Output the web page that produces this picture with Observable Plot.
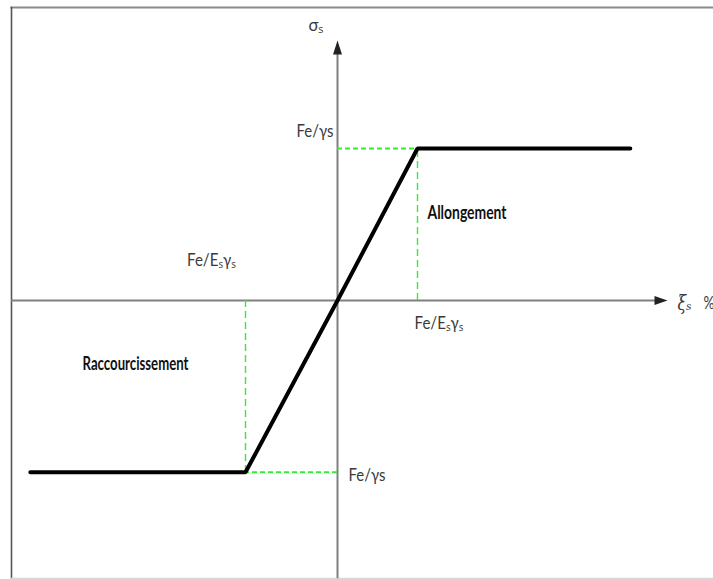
<!DOCTYPE html>
<html>
<head>
<meta charset="utf-8">
<script src="https://cdn.jsdelivr.net/npm/d3@7"></script>
<script src="https://cdn.jsdelivr.net/npm/@observablehq/plot@0.6"></script>
<style>
  html, body { margin: 0; padding: 0; background: #fff; }
  svg { display: block; }
</style>
</head>
<body>
<div id="chart"></div>
<script>
// Stress–strain diagram of reinforcing steel (relative units: elastic strain limit = 1, Fe/γs = 1)
const strain = [-3.84, -1.15, 0, 1, 3.66];
const stress = [-1.13, -1.13, 0, 1, 1];

// yield points (for the green dashed guides)
const yieldStrain = [1, -1.15];
const yieldStress = [1, -1.13];

// axis extents
const xAxisExtent = [-4.075, 4.125];
const yAxisExtent = [-1.83, 1.71];

// labels
const labelText = ["σₛ", "Fe/γs", "Fe/Eₛγₛ", "Fe/Eₛγₛ", "Fe/γs", "ξₛ", "%"];
const labelX = [-0.27, -0.05, -1.575, 0.9625, 0.1375, 4.25, 4.575];
const labelY = [1.81, 1.112, 0.263, -0.151, -1.151, -0.02, -0.02];
const zoneText = ["Allongement", "Raccourcissement"];
const zoneX = [1.125, -3.1875];
const zoneY = [0.572, -0.421];

const curve = strain.map((x, i) => ({x, y: stress[i]}));
const guides = yieldStrain.map((x, i) => ({x, y: yieldStress[i]}));
const labels = labelText.map((t, i) => ({t, x: labelX[i], y: labelY[i]}));
const zones = zoneText.map((t, i) => ({t, x: zoneX[i], y: zoneY[i]}));

// styling of labels (not data)
const labelAnchor = ["middle", "end", "middle", "start", "start", "start", "start"];
const labelWidth = [15, 37, 49, 49, 37, 14, 11];
const labelSize = [17, 18, 18, 18, 18, 21, 17];
const labelFont = [null, null, null, null, null, "'DejaVu Serif', serif", null];
const zoneWidth = [79, 106];

const arrowUp = { draw(ctx) { ctx.moveTo(0, 0); ctx.lineTo(-4.5, 14); ctx.lineTo(4.5, 14); ctx.closePath(); } };
const arrowRight = { draw(ctx) { ctx.moveTo(0, 0); ctx.lineTo(-13, -4.5); ctx.lineTo(-13, 4.5); ctx.closePath(); } };

const styleFont = "Lato, 'Open Sans', sans-serif";

const chart = Plot.plot({
  width: 713,
  height: 579,
  marginTop: 7,
  marginLeft: 11,
  marginRight: 0,
  marginBottom: 1,
  x: {domain: [-4.075, 4.7], axis: null},
  y: {domain: [-1.8289, 1.9276], axis: null},
  style: {fontFamily: styleFont, background: "#fff"},
  marks: [
    Plot.frame({anchor: "top", stroke: "#8a8a8a", strokeWidth: 2.2}),
    Plot.frame({anchor: "left", stroke: "#555", strokeWidth: 1.6}),
    Plot.frame({anchor: "bottom", stroke: "#d8d8d8", strokeWidth: 1.5}),
    // axes
    Plot.ruleY([0], {x1: xAxisExtent[0], x2: xAxisExtent[1] - 0.1, stroke: "#808080", strokeWidth: 2}),
    Plot.ruleX([0], {y1: yAxisExtent[0], y2: yAxisExtent[1] - 0.06, stroke: "#808080", strokeWidth: 2}),
    Plot.dot([{x: 0, y: yAxisExtent[1]}], {x: "x", y: "y", symbol: arrowUp, fill: "#222", stroke: "none", r: 5}),
    Plot.dot([{x: xAxisExtent[1], y: 0}], {x: "x", y: "y", symbol: arrowRight, fill: "#222", stroke: "none", r: 5}),
    // green dashed guides
    Plot.ruleY(guides, {x1: 0, x2: "x", y: "y", stroke: "#2ef02e", strokeWidth: 2, strokeDasharray: "5,3"}),
    Plot.ruleX(guides, {x: "x", y1: 0, y2: "y", stroke: "#2ef02e", strokeWidth: 1.4, strokeDasharray: "7,4"}),
    // stress-strain curve
    Plot.line(curve, {x: "x", y: "y", stroke: "#000", strokeWidth: 4, strokeLinejoin: "miter"}),
    // labels
    ...labels.map((d, i) => Plot.text([d], {
      x: "x", y: "y", text: "t", textAnchor: labelAnchor[i], fill: "#3a3a3a",
      fontSize: labelSize[i], fontStyle: d.t === "ξₛ" ? "italic" : "normal",
      fontFamily: labelFont[i] || styleFont, className: "lbl" + i
    })),
    ...zones.map((d, i) => Plot.text([d], {
      x: "x", y: "y", text: "t", textAnchor: "start", fill: "#111",
      fontSize: 18, fontWeight: "bold", className: "zone" + i
    }))
  ]
});

document.getElementById("chart").appendChild(chart);

// condensed (Calibri-like) widths
labelWidth.forEach((w, i) => chart.querySelectorAll(".lbl" + i + " text").forEach(el => {
  el.setAttribute("textLength", w);
  el.setAttribute("lengthAdjust", "spacingAndGlyphs");
}));
zoneWidth.forEach((w, i) => chart.querySelectorAll(".zone" + i + " text").forEach(el => {
  el.setAttribute("textLength", w);
  el.setAttribute("lengthAdjust", "spacingAndGlyphs");
}));
</script>
</body>
</html>
